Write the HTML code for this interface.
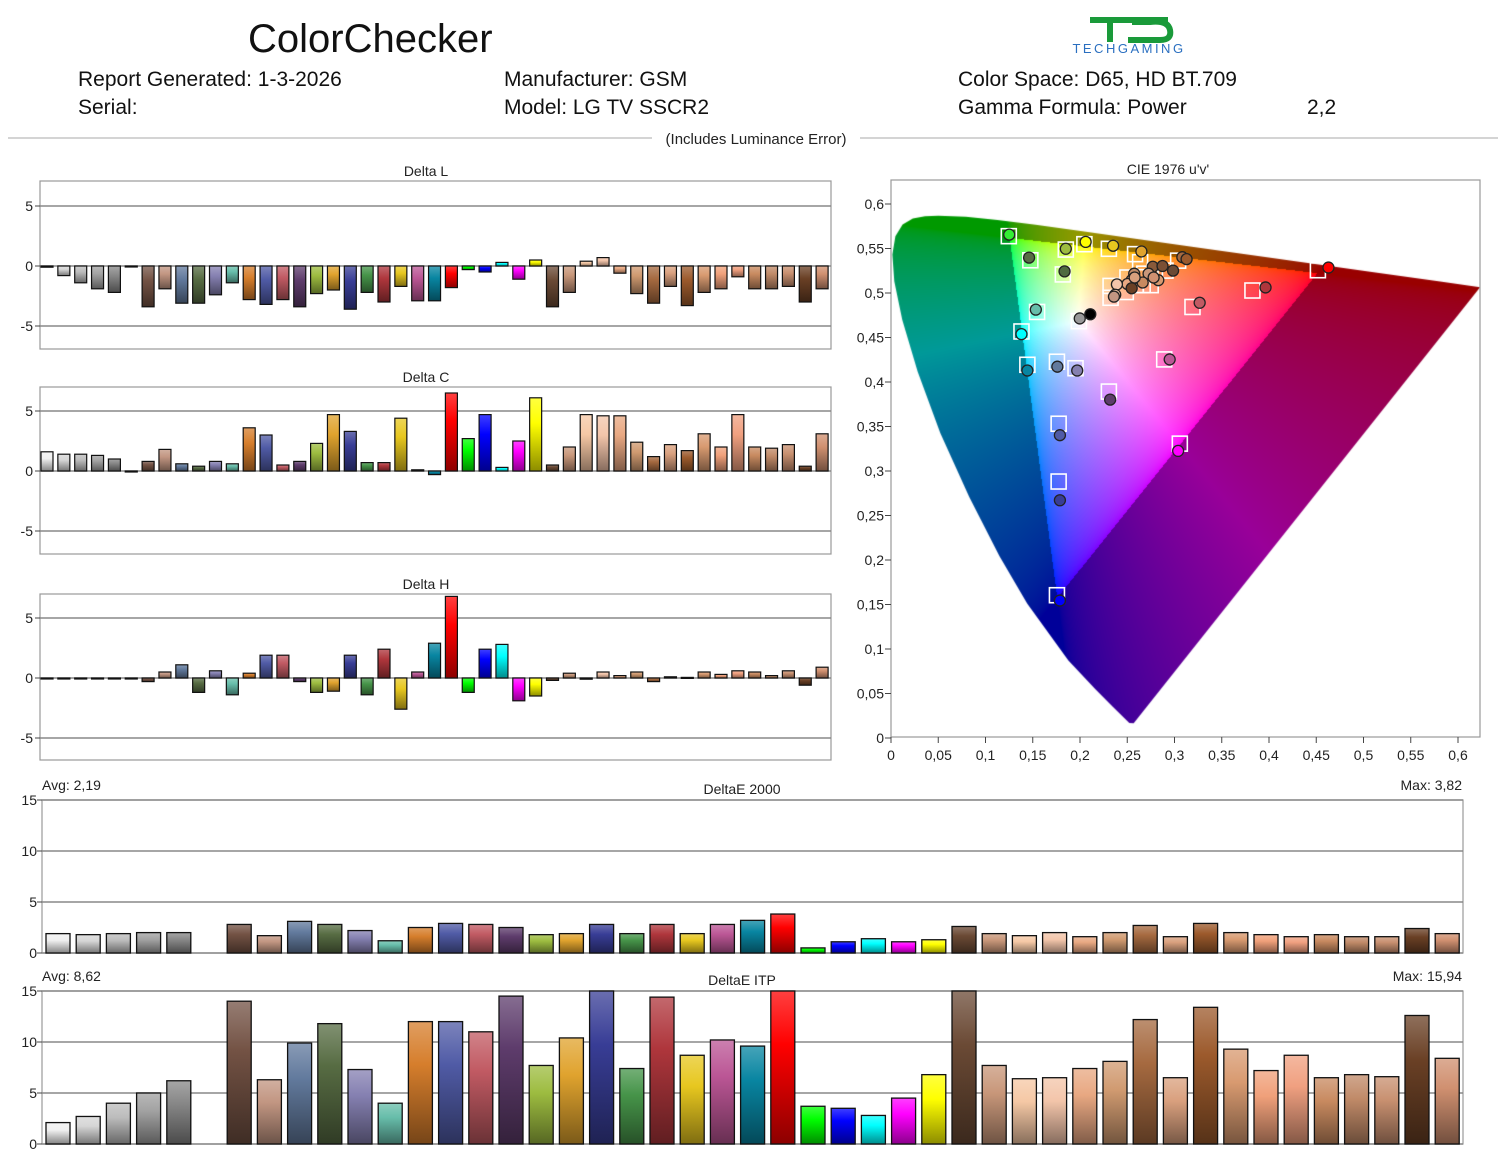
<!DOCTYPE html>
<html><head><meta charset="utf-8"><style>
html,body{margin:0;padding:0;background:#fff;}
#wrap{position:relative;width:1500px;height:1159px;overflow:hidden;font-family:"Liberation Sans",sans-serif;}
canvas{position:absolute;left:0;top:0;}
svg{position:absolute;left:0;top:0;}
</style></head><body><div id="wrap">
<canvas id="cv" width="1500" height="1159"></canvas>
<svg id="sv" width="1500" height="1159" xmlns="http://www.w3.org/2000/svg">
<defs id="defs"></defs>
<text x="248" y="52" font-size="40" fill="#111">ColorChecker</text>
<g font-size="21" fill="#111">
<text x="78" y="86">Report Generated: 1-3-2026</text>
<text x="78" y="114">Serial:</text>
<text x="504" y="86">Manufacturer: GSM</text>
<text x="504" y="114">Model: LG TV SSCR2</text>
<text x="958" y="86">Color Space: D65, HD BT.709</text>
<text x="958" y="114">Gamma Formula: Power</text>
<text x="1307" y="114">2,2</text>
</g>
<path d="M1090 20 H1168 M1110 20 V42 M1128 40 H1160 Q1172 40 1170 30 Q1168 20 1150 22 H1132" stroke="#1a9a3a" stroke-width="6" fill="none"/>
<text x="1129" y="53" font-size="13" fill="#2a6fc0" text-anchor="middle" letter-spacing="2.5">TECHGAMING</text>
<line x1="8" y1="138" x2="1498" y2="138" stroke="#aaa" stroke-width="1"/>
<rect x="652" y="128" width="208" height="20" fill="#fff"/>
<text x="756" y="144" font-size="15" text-anchor="middle" fill="#222">(Includes Luminance Error)</text>
<g id="charts"></g>
</svg>
</div>
<script>
var NS="http://www.w3.org/2000/svg";
var sv=document.getElementById('charts'),defs=document.getElementById('defs');
function el(t,a,p){var e=document.createElementNS(NS,t);for(var k in a)e.setAttribute(k,a[k]);(p||sv).appendChild(e);return e;}
function txt(x,y,s,sz,anc){var e=el('text',{x:x,y:y,'font-size':sz,'text-anchor':anc||'start',fill:'#222'});e.textContent=s;return e;}
var cols=['#f0f0f0','#d6d6d6','#bcbcbc','#a2a2a2','#888888','#303030','#735244','#c29682','#627a9d','#576c43','#8580b1','#67bdaa','#d67e2c','#505ba6','#c15a63','#5e3c6c','#9dbc40','#e0a32e','#383d96','#469449','#af363c','#e7c71f','#bb5695','#0885a1','#ff0000','#00ff00','#0000ff','#00ffff','#ff00ff','#ffff00','#6b4a35','#c8977a','#f5c8a5','#f3c5aa','#e8a882','#d09a70','#a66a40','#d9a07e','#9c5a2c','#d89a70','#f0a07a','#f0a080','#c88a60','#c08a68','#c89070','#6a4025','#d09070'];
function hx(c){return [parseInt(c.substr(1,2),16),parseInt(c.substr(3,2),16),parseInt(c.substr(5,2),16)];}
function mix(c,t,f){var a=hx(c),b=hx(t);return 'rgb('+a.map(function(v,i){return Math.round(v*(1-f)+b[i]*f)}).join(',')+')';}
cols.forEach(function(c,i){var g=el('linearGradient',{id:'g'+i,x1:0,y1:0,x2:0,y2:1},defs);
el('stop',{offset:0,'stop-color':mix(c,'#ffffff',0.25)},g);el('stop',{offset:0.35,'stop-color':c},g);el('stop',{offset:1,'stop-color':mix(c,'#000000',0.45)},g);});
var dL=[-0.1,-0.8,-1.4,-1.9,-2.2,0,-3.4,-1.9,-3.1,-3.1,-2.4,-1.4,-2.8,-3.2,-2.8,-3.4,-2.3,-2.0,-3.6,-2.2,-3.0,-1.7,-2.9,-2.9,-1.8,-0.3,-0.5,0.3,-1.1,0.5,-3.4,-2.2,0.4,0.7,-0.6,-2.3,-3.1,-1.7,-3.3,-2.2,-1.9,-0.9,-1.9,-1.9,-1.7,-3.0,-1.9];
var dC=[1.6,1.4,1.4,1.3,1.0,0,0.8,1.8,0.6,0.4,0.8,0.6,3.6,3.0,0.5,0.8,2.3,4.7,3.3,0.7,0.7,4.4,0.1,-0.3,6.5,2.7,4.7,0.3,2.5,6.1,0.5,2.0,4.7,4.6,4.6,2.4,1.2,2.2,1.7,3.1,2.0,4.7,2.0,1.9,2.2,0.4,3.1];
var dH=[0,0,0,0,0,0,-0.3,0.5,1.1,-1.2,0.6,-1.4,0.4,1.9,1.9,-0.3,-1.2,-1.1,1.9,-1.4,2.4,-2.6,0.5,2.9,6.8,-1.2,2.4,2.8,-1.9,-1.5,-0.2,0.4,-0.1,0.5,0.2,0.5,-0.3,0.1,0.05,0.5,0.3,0.6,0.5,0.2,0.6,-0.6,0.9];
var e00=[1.9,1.8,1.9,2.0,2.0,null,2.8,1.7,3.1,2.8,2.2,1.2,2.5,2.9,2.8,2.5,1.8,1.9,2.8,1.9,2.8,1.9,2.8,3.2,3.82,0.5,1.1,1.4,1.1,1.3,2.6,1.9,1.7,2.0,1.6,2.0,2.7,1.6,2.9,2.0,1.8,1.6,1.8,1.6,1.6,2.4,1.9];
var itp=[2.1,2.7,4.0,5.0,6.2,null,14.0,6.3,9.9,11.8,7.3,4.0,12.0,12.0,11.0,14.5,7.7,10.4,15.9,7.4,14.4,8.7,10.2,9.6,15.9,3.7,3.5,2.8,4.5,6.8,15.0,7.7,6.4,6.5,7.4,8.1,12.2,6.5,13.4,9.3,7.2,8.7,6.5,6.8,6.6,12.6,8.4];
function small(title,top,bot,zero,data){
 el('rect',{x:40,y:top,width:791,height:bot-top,fill:'none',stroke:'#999','stroke-width':1.2});
 txt(426,top-5,title,14,'middle');
 [5,0,-5].forEach(function(v){var y=zero-v*12;el('line',{x1:40,y1:y,x2:831,y2:y,stroke:'#888','stroke-width':1.5});el('line',{x1:35,y1:y,x2:40,y2:y,stroke:'#444'});txt(33,y+5,String(v),14,'end');});
 data.forEach(function(v,i){var cx=47+i*16.85,h=v*12;var y=h>=0?zero-h:zero;var hh=Math.max(Math.abs(h),1);
  el('rect',{x:cx-6,y:y,width:12,height:hh,fill:'url(#g'+i+')',stroke:'#111','stroke-width':1.2});});
}
small('Delta L',181,349,266,dL);small('Delta C',387,554,471,dC);small('Delta H',594,760,678,dH);
function big(title,top,zero,data,avg,mx){
 var s=(zero-top)/15;
 el('rect',{x:42,y:top,width:1421,height:zero-top,fill:'none',stroke:'#999','stroke-width':1.2});
 [15,10,5,0].forEach(function(v){var y=zero-v*s;el('line',{x1:42,y1:y,x2:1463,y2:y,stroke:'#888','stroke-width':1.5});el('line',{x1:37,y1:y,x2:42,y2:y,stroke:'#444'});txt(37,y+5,String(v),14,'end');});
 txt(42,top-10,avg,14);txt(1462,top-10,mx,14,'end');txt(742,top-6,title,14,'middle');
 data.forEach(function(v,i){if(v==null)return;var cx=58+i*30.2,h=Math.min(v,15)*s;
  el('rect',{x:cx-12,y:zero-h,width:24,height:h,fill:'url(#g'+i+')',stroke:'#111','stroke-width':1.3});});
}
big('DeltaE 2000',800,953,e00,'Avg: 2,19','Max: 3,82');
big('DeltaE ITP',991,1144,itp,'Avg: 8,62','Max: 15,94');
// CIE
var X0=891,Y0=738,SU=945,SV=890;
function px(u){return X0+u*SU}function py(v){return Y0-v*SV}
el('rect',{x:891,y:180,width:589,height:557,fill:'none',stroke:'#999','stroke-width':1.2});
txt(1168,174,"CIE 1976 u'v'",14,'middle');
for(var k=0;k<=12;k++){var v=k*0.05,lab=(k==0?'0':String(+v.toFixed(2)).replace('.',','));
 var y=py(v);el('line',{x1:885,y1:y,x2:891,y2:y,stroke:'#444'});txt(884,y+5,lab,14,'end');
 var x=px(v);el('line',{x1:x,y1:737,x2:x,y2:743,stroke:'#444'});txt(x,760,lab,14,'middle');}
var xy=[[.1741,.0050],[.1714,.0051],[.1644,.0109],[.1566,.0177],[.1440,.0297],[.1241,.0578],[.1096,.0868],[.0913,.1327],[.0687,.2007],[.0454,.2950],[.0235,.4127],[.0082,.5384],[.0039,.6548],[.0139,.7502],[.0389,.8120],[.0743,.8338],[.1142,.8262],[.1547,.8059],[.2296,.7543],[.3016,.6923],[.3731,.6245],[.4441,.5547],[.5125,.4866],[.5752,.4242],[.6270,.3725],[.6915,.3083],[.7190,.2809],[.7347,.2653]];
var cv=document.getElementById('cv'),ctx=cv.getContext('2d');
ctx.beginPath();xy.forEach(function(p,i){var d=-2*p[0]+12*p[1]+3,u=4*p[0]/d,v=9*p[1]/d;if(i)ctx.lineTo(px(u),py(v));else ctx.moveTo(px(u),py(v));});ctx.closePath();
var x0=891,y0=190,w=590,h=548;
var img=ctx.createImageData(w,h);
function gam(c){return c<=0.0031308?12.92*c:1.055*Math.pow(c,1/2.4)-0.055;}
for(var j=0;j<h;j++)for(var i=0;i<w;i++){
 var u=(x0+i-X0)/SU,v=(Y0-(y0+j))/SV;if(v<=0.001)continue;
 var d=6*u-16*v+12,x=9*u/d,yy=4*v/d;var X=x/yy,Y=1,Z=(1-x-yy)/yy;
 var r=3.2406*X-1.5372*Y-0.4986*Z,g=-0.9689*X+1.8758*Y+0.0415*Z,b=0.0557*X-0.2040*Y+1.0570*Z;
 var out=(r<0||g<0||b<0);r=Math.max(r,0);g=Math.max(g,0);b=Math.max(b,0);var m=Math.max(r,g,b);
 r=gam(r/m);g=gam(g/m);b=gam(b/m);var f=out?0.6:1;
 var o=(j*w+i)*4;img.data[o]=r*255*f;img.data[o+1]=g*255*f;img.data[o+2]=b*255*f;img.data[o+3]=255;}
var tmp=document.createElement('canvas');tmp.width=w;tmp.height=h;tmp.getContext('2d').putImageData(img,0,0);
ctx.save();ctx.clip();ctx.drawImage(tmp,x0,y0);ctx.restore();
function zu(zx){return (zx-120)/2238}function zv(zy){return (1483-zy)/2325}
var sq=[[399,172],[450,235],[534,207],[578,193],[636,205],[698,219],[527,272],[466,370],[429,421],[443,508],[513,500],[557,517],[565,394],[636,578],[767,494],[804,714],[517,662],[517,813],[513,1110],[834,357],[976,314],[1131,261],[640,302],[640,333],[676,318],[716,300],[745,262],[770,262],[800,236],[710,240],[735,300],[700,300],[680,280],[720,270]];
sq.forEach(function(p){var x=px(zu(p[0])),y=py(zv(p[1]));el('rect',{x:x-7.5,y:y-7.5,width:15,height:15,fill:'none',stroke:'#fff','stroke-width':1.6});});
var ci=[[400,168,'#33ee33'],[447,228,'#576c43'],[534,205,'#9dbc40'],[581,187,'#ffff00'],[646,197,'#e7c71f'],[713,212,'#e0a32e'],[531,264,'#4f6a40'],[463,364,'#67bdaa'],[429,428,'#00ffff'],[443,523,'#0885a1'],[514,513,'#627a9d'],[561,523,'#8580b1'],[567,387,'#999999'],[592,376,'#000000'],[639,599,'#5e3c6c'],[780,494,'#bb5695'],[800,733,'#ff00ff'],[520,692,'#505ba6'],[520,862,'#383d96'],[520,1124,'#0000ff'],[851,346,'#c15a63'],[1007,306,'#af363c'],[1156,254,'#ff0000'],
[810,227,'#a66a40'],[820,232,'#9c5a2c'],[740,252,'#8a5a3a'],[763,250,'#7a5035'],[788,262,'#6b4a35'],[730,270,'#c8977a'],[753,287,'#d89a70'],[696,270,'#c08a68'],[690,287,'#d09a70'],[716,293,'#c88a60'],[680,297,'#e8a882'],[690,308,'#6a4025'],[655,298,'#f3c5aa'],[651,325,'#f5c8a5'],[648,330,'#c29682'],[697,280,'#d9a07e'],[742,280,'#d09070']];
ci.forEach(function(p){el('circle',{cx:px(zu(p[0])),cy:py(zv(p[1])),r:5.5,fill:p[2],stroke:'#222','stroke-width':1.3});});
</script>
</body></html>
